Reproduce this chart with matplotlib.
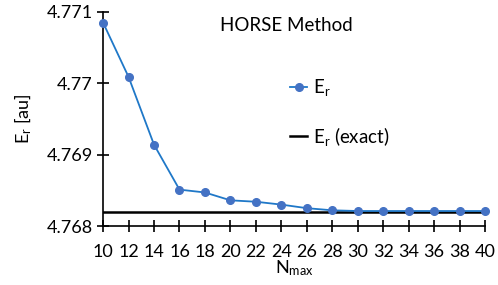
import numpy as np
import matplotlib.pyplot as plt

# veriler
n_max = [10, 12, 14, 16, 18, 20, 22, 24, 26, 28, 30, 32, 34, 36, 38, 40]
e_r = [4.77085, 4.77009, 4.76914, 4.76851, 4.76847, 4.76836, 4.76834, 4.76830,
       4.76825, 4.76822, 4.76821, 4.76821, 4.76821, 4.76821, 4.76821, 4.76821]
e_exact = 4.76820
y_ticks = [4.768, 4.769, 4.77, 4.771]
y_tick_labels = ["4.768", "4.769", "4.77", "4.771"]

plt.rcParams['font.family'] = ['Lato', 'DejaVu Sans']
plt.rcParams['mathtext.fontset'] = 'custom'
plt.rcParams['mathtext.rm'] = 'Lato'

fig = plt.figure(figsize=(4.98, 2.85), dpi=100)
ax = fig.add_axes([0.207, 0.207, 0.767, 0.751])

ax.plot(n_max, e_r, '-', color='#1f78c8', lw=1.3, marker='o', ms=5.5,
        mfc='#4472C4', mec='#4472C4', label=r'$\mathregular{E_r}$', clip_on=False, zorder=3)
ax.axhline(e_exact, color='black', lw=1.8, label=r'$\mathregular{E_r}$ (exact)', zorder=2)

ax.set_xlim(10, 40)
ax.set_ylim(4.768, 4.771)
ax.set_xticks(n_max)
ax.set_yticks(y_ticks)
ax.set_yticklabels(y_tick_labels)
ax.tick_params(axis='both', direction='inout', length=8, width=1.2, labelsize=13, colors='black')
ax.tick_params(axis='x', pad=9)
for s in ['top', 'right']:
    ax.spines[s].set_visible(False)
for s in ['left', 'bottom']:
    ax.spines[s].set_linewidth(1.2)

ax.set_xlabel(r'$\mathregular{N_{max}}$', fontsize=13, labelpad=-1)
ax.set_ylabel(r'$\mathregular{E_r}$ [au]', fontsize=13, labelpad=9)

ax.text(0.306, 0.91, 'HORSE Method', transform=ax.transAxes, fontsize=13.5)

ax.legend(loc='upper left', bbox_to_anchor=(0.47, 0.73), frameon=False,
          handlelength=0.9, handletextpad=0.3, labelspacing=1.4, fontsize=13.5,
          borderaxespad=0)

plt.savefig('out.png', dpi=100)
